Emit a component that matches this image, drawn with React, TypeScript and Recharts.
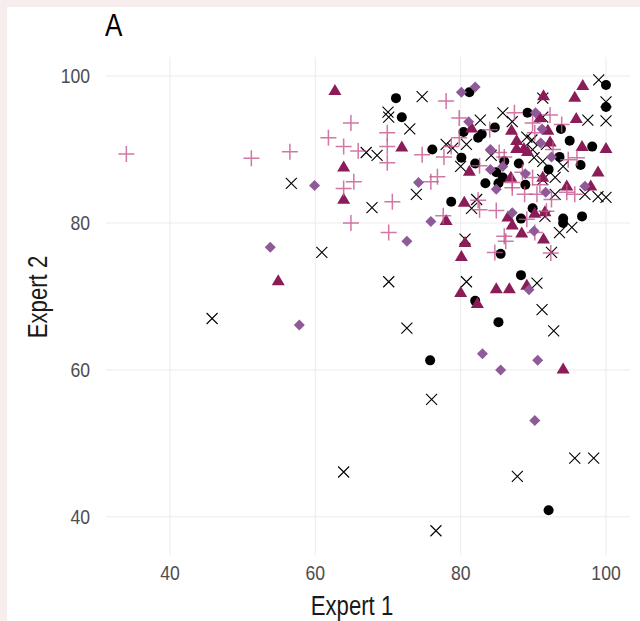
import React from "react";
import { ScatterChart, Scatter, XAxis, YAxis, CartesianGrid } from "recharts";

const xTicks = [40, 60, 80, 100];
const yTicks = [40, 60, 80, 100];
const xTitle = "Expert 1";
const yTitle = "Expert 2";
const panelTitle = "A";

const circlePts: [number, number][] = [
  [71.1, 97.0], [71.9, 94.4], [81.2, 97.8], [76.1, 90.0], [80.4, 92.4], [82.4, 91.6], [82.9, 92.1],
  [84.7, 93.0], [89.2, 95.0], [93.8, 92.8], [95.0, 91.2], [98.1, 90.4], [100, 98.8], [100, 95.8],
  [93.6, 89.0], [96.5, 87.9], [80.1, 88.9], [82.0, 88.1], [86.0, 88.4], [88.0, 88.1], [84.9, 86.9],
  [85.8, 86.2], [83.4, 85.4], [85.2, 85.4], [88.9, 85.2], [92.1, 87.3], [78.7, 82.9], [89.9, 82.0],
  [88.3, 80.6], [94.1, 80.6], [94.1, 80.0], [96.7, 80.9], [85.5, 75.8], [88.3, 72.9], [82.0, 69.4],
  [85.2, 66.5], [75.8, 61.3], [92.1, 40.9],
];

const crossPts: [number, number][] = [
  [45.8, 67.0], [56.7, 85.4], [60.9, 76.0], [63.9, 46.1], [70.1, 72.0], [70.0, 95.1], [70.1, 94.4],
  [67.0, 89.6], [68.5, 89.2], [67.8, 82.1], [74.7, 97.2], [73.0, 92.8], [73.9, 83.9], [72.6, 65.7],
  [76.0, 56.0], [76.6, 38.1], [80.6, 77.8], [80.8, 72.0], [82.2, 83.2], [81.5, 82.0], [82.7, 94.0],
  [85.8, 95.0], [87.1, 93.8], [89.1, 91.7], [89.8, 91.3], [89.9, 90.0], [91.3, 97.0], [91.3, 94.4],
  [91.8, 90.7], [97.5, 94.0], [100, 96.5], [100, 93.9], [99.0, 99.5], [78.0, 90.7], [78.9, 90.2],
  [80.8, 90.7], [80.0, 87.7], [84.2, 89.2], [90.1, 88.9], [91.3, 88.4], [94.1, 87.7], [91.3, 85.9],
  [93.0, 86.2], [93.0, 83.9], [97.1, 83.9], [98.9, 83.6], [100, 83.5], [91.6, 80.9], [93.6, 78.7],
  [95.3, 79.4], [92.5, 76.0], [90.5, 71.8], [91.2, 68.2], [92.8, 65.3], [95.7, 48.0], [98.3, 48.0],
  [87.8, 45.5],
];

const trianglePts: [number, number][] = [
  [62.7, 98.1], [54.9, 72.2], [63.9, 87.7], [63.9, 83.3], [71.9, 90.4], [81.5, 93.0], [81.2, 87.1],
  [87.0, 92.7], [87.7, 91.3], [87.7, 90.2], [88.7, 90.2], [89.2, 89.8], [91.4, 97.4], [90.9, 94.4],
  [92.0, 92.7], [92.3, 91.1], [95.7, 97.2], [95.9, 94.3], [96.8, 98.8], [96.7, 90.5], [100, 90.2],
  [98.9, 87.0], [91.3, 86.3], [86.9, 86.3], [94.6, 85.1], [97.9, 85.1], [80.5, 82.9], [78.0, 80.4],
  [87.1, 79.8], [88.4, 78.7], [91.4, 77.9], [80.6, 77.4], [80.1, 75.5], [80.0, 70.6], [82.3, 69.1],
  [84.9, 71.1], [86.7, 71.1], [89.1, 71.6], [90.2, 81.4], [91.6, 81.6], [94.1, 60.2], [86.5, 80.9],
];

const plusPts: [number, number][] = [
  [34.0, 89.4], [51.2, 88.8], [56.5, 89.7], [61.8, 91.6], [63.9, 90.4], [65.9, 89.8], [64.9, 93.6],
  [69.9, 92.3], [69.9, 90.4], [69.9, 88.2], [65.3, 85.6], [63.9, 84.7], [70.6, 82.9], [64.9, 80.0],
  [70.1, 78.7], [78.0, 96.6], [79.8, 94.3], [74.7, 89.3], [76.8, 86.3], [75.9, 85.6], [78.7, 90.4],
  [79.8, 91.6], [84.0, 92.7], [85.3, 89.6], [86.0, 89.0], [87.4, 95.0], [89.9, 93.6], [92.3, 94.7],
  [93.9, 93.4], [90.2, 92.3], [92.7, 90.0], [96.0, 88.9], [82.6, 87.8], [87.1, 85.5], [89.9, 86.2],
  [90.9, 85.2], [88.5, 86.9], [77.6, 81.0], [82.4, 83.1], [82.6, 81.8], [84.9, 81.7], [87.1, 84.8],
  [88.8, 83.9], [90.5, 83.9], [89.1, 80.5], [91.8, 81.6], [90.2, 78.7], [86.2, 77.5], [84.7, 76.0],
  [92.4, 75.9], [95.7, 83.9], [94.6, 84.2], [86.0, 78.2], [77.7, 89.0], [94.8, 88.6], [92.5, 83.2],
];

const diamondPts: [number, number][] = [
  [53.8, 76.7], [57.8, 66.1], [59.9, 85.1], [72.6, 77.5], [74.2, 85.5], [75.9, 80.2], [80.1, 97.8],
  [82.0, 98.5], [81.1, 93.8], [90.3, 95.0], [91.2, 92.8], [84.1, 90.0], [84.1, 87.3], [85.8, 87.7],
  [88.9, 86.7], [92.5, 89.0], [97.1, 85.0], [84.9, 84.6], [87.1, 81.4], [90.1, 78.9], [91.7, 84.2],
  [89.4, 70.9], [83.0, 62.2], [85.5, 60.0], [90.6, 61.3], [90.2, 53.1], [91.0, 90.9],
];

const toData = (pts: [number, number][]) => pts.map(([x, y]) => ({ x, y }));

const TRI = "#8B1C57";
const PLUS = "#C4558F";
const DIA = "#8F5A98";

const CircleShape = (p: any) => <circle cx={p.cx} cy={p.cy} r={5} fill="#000" />;
const CrossShape = (p: any) => (
  <path
    d={`M${p.cx - 5.5},${p.cy - 5.5}L${p.cx + 5.5},${p.cy + 5.5}M${p.cx + 5.5},${p.cy - 5.5}L${p.cx - 5.5},${p.cy + 5.5}`}
    stroke="#000"
    strokeWidth={1.1}
    fill="none"
  />
);
const TriShape = (p: any) => (
  <path d={`M${p.cx},${p.cy - 6}L${p.cx + 6.5},${p.cy + 5}L${p.cx - 6.5},${p.cy + 5}Z`} fill={TRI} />
);
const PlusShape = (p: any) => (
  <path
    d={`M${p.cx - 8},${p.cy}H${p.cx + 8}M${p.cx},${p.cy - 8}V${p.cy + 8}`}
    stroke={PLUS}
    strokeOpacity={0.8}
    strokeWidth={1.5}
    fill="none"
  />
);
const DiaShape = (p: any) => (
  <path d={`M${p.cx},${p.cy - 5.5}L${p.cx + 5.5},${p.cy}L${p.cx},${p.cy + 5.5}L${p.cx - 5.5},${p.cy}Z`} fill={DIA} />
);

const FONT = "'Liberation Sans', Arial, sans-serif";

const XTick = (p: any) => (
  <text
    transform={`translate(${p.x},${p.y + 17}) scale(0.88,1)`}
    textAnchor="middle"
    fontSize={20}
    fill="#4D4D4D"
    fontFamily={FONT}
  >
    {p.payload.value}
  </text>
);
const YTick = (p: any) => (
  <text
    transform={`translate(${p.x - 8},${p.y + 7}) scale(0.88,1)`}
    textAnchor="end"
    fontSize={20}
    fill="#4D4D4D"
    fontFamily={FONT}
  >
    {p.payload.value}
  </text>
);

export default function App() {
  return (
    <div style={{ position: "absolute", left: 0, top: 0, width: 640, height: 621, background: "#F7EDED", overflow: "hidden" }}>
      <div style={{ position: "absolute", left: 7, top: 7, width: 633, height: 614, background: "#FFFFFF" }} />
      <div
        style={{
          position: "absolute",
          left: 105,
          top: 6,
          fontFamily: FONT,
          fontSize: 31,
          color: "#000",
          lineHeight: "40px",
          transform: "scaleX(0.84)",
          transformOrigin: "left top",
        }}
      >
        {panelTitle}
      </div>
      <div
        style={{
          position: "absolute",
          left: 352,
          top: 606,
          transform: "translate(-50%, -50%) scaleX(0.82)",
          fontFamily: FONT,
          fontSize: 27,
          color: "#1A1A1A",
          lineHeight: "30px",
          whiteSpace: "nowrap",
        }}
      >
        {xTitle}
      </div>
      <div
        style={{
          position: "absolute",
          left: 38,
          top: 297,
          transform: "translate(-50%, -50%) rotate(-90deg) scaleX(0.82)",
          fontFamily: FONT,
          fontSize: 27,
          color: "#1A1A1A",
          lineHeight: "30px",
          whiteSpace: "nowrap",
        }}
      >
        {yTitle}
      </div>
      <div style={{ position: "absolute", left: 0, top: 0 }}>
        <ScatterChart width={640} height={621} margin={{ top: 57, right: 10, bottom: 36, left: 0 }}>
          <CartesianGrid stroke="#EBEBEB" strokeWidth={1} horizontalValues={yTicks} verticalValues={xTicks} />
          <XAxis
            type="number"
            dataKey="x"
            domain={[31.2, 103.3]}
            ticks={xTicks}
            allowDataOverflow
            axisLine={false}
            tickLine={false}
            height={30}
            tick={<XTick />}
          />
          <YAxis
            type="number"
            dataKey="y"
            domain={[34.8, 102.6]}
            ticks={yTicks}
            allowDataOverflow
            axisLine={false}
            tickLine={false}
            width={106}
            tick={<YTick />}
          />
          <Scatter data={toData(circlePts)} shape={CircleShape} isAnimationActive={false} />
          <Scatter data={toData(crossPts)} shape={CrossShape} isAnimationActive={false} />
          <Scatter data={toData(trianglePts)} shape={TriShape} isAnimationActive={false} />
          <Scatter data={toData(plusPts)} shape={PlusShape} isAnimationActive={false} />
          <Scatter data={toData(diamondPts)} shape={DiaShape} isAnimationActive={false} />
        </ScatterChart>
      </div>
    </div>
  );
}
